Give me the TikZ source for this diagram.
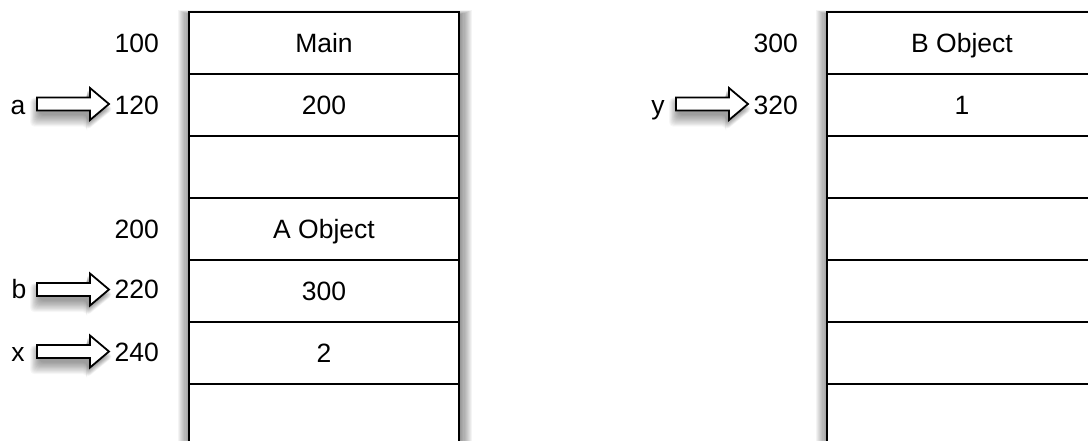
\documentclass[tikz,border=0pt]{standalone}
\usepackage{fontspec}
\setmainfont{Liberation Sans}
\tikzset{
  cell/.style={draw=black, line width=2pt, fill=white, rectangle, minimum width=270pt, minimum height=62pt, inner sep=0pt, text height=19pt, text depth=0pt},
  addr/.style={anchor=base east, inner sep=0pt},
  var/.style={anchor=base, inner sep=0pt},
  arrowbody/.style={draw=black, line width=1.8pt, fill=white, line join=miter},
}
\newcommand{\blockarr}[3]{% #1 = left x, #2 = centre y, #3 = name
  \foreach \i in {1,...,14}{
    \fill[black, opacity=0.032, rounded corners=4pt]
      (#1+3-\i*0.7, #2-2-\i*0.3) -- (#1+50, #2-2-\i*0.3) -- (#1+50, #2-10-\i*0.4)
      -- (#1+68+\i*0.6, #2+5) -- (#1+50, #2+18+\i*0.6) -- (#1+50, #2+10+\i*0.9)
      -- (#1+3-\i*0.7, #2+10+\i*0.9) -- cycle;
  }
  \draw[arrowbody] (#1, #2-6.5) -- (#1+53, #2-6.5) -- (#1+53, #2-16) -- (#1+72, #2)
     -- (#1+53, #2+16) -- (#1+53, #2+6.5) -- (#1, #2+6.5) -- cycle;
  \coordinate (#3) at (#1+72, #2);
}
\newcommand{\tabshadow}[2]{% #1 left x, #2 right x
  \foreach \i in {1,...,12}{
    \fill[black, opacity=0.045] (#1+1-\i*1.1, 15-\i*0.4) rectangle (#2-1+\i*1.1, 460);
  }
}
\begin{document}
\begin{tikzpicture}[x=1pt, y=-1pt, font=\fontsize{26.5}{30}\selectfont]
\useasboundingbox (0,0) rectangle (1088,440);
\clip (0,0) rectangle (1088,440);
\fill[white] (0,0) rectangle (1088,440);

% ---------- left table ----------
\tabshadow{190}{460}
\node[cell] (L1) at (324, 42.5) {Main};
\node[cell] (L2) at (324,104.5) {200};
\node[cell] (L3) at (324,166.5) {};
\node[cell] (L4) at (324,228.5) {A Object};
\node[cell] (L5) at (324,290.5) {300};
\node[cell] (L6) at (324,352.5) {2};
\node[cell] (L7) at (324,414.5) {};

% ---------- right table ----------
\tabshadow{828}{1098}
\node[cell] (R1) at (962, 42.5) {B Object};
\node[cell] (R2) at (962,104.5) {1};
\node[cell] (R3) at (962,166.5) {};
\node[cell] (R4) at (962,228.5) {};
\node[cell] (R5) at (962,290.5) {};
\node[cell] (R6) at (962,352.5) {};
\node[cell] (R7) at (962,414.5) {};

% ---------- addresses ----------
\node[addr] (a100) at (159, 52.5) {100};
\node[addr] (a120) at (159,114) {120};
\node[addr] (a200) at (159,238) {200};
\node[addr] (a220) at (159,298.5) {220};
\node[addr] (a240) at (159,361) {240};
\node[addr] (a300) at (798, 52.5) {300};
\node[addr] (a320) at (798,114) {320};

% ---------- variables and block arrows ----------
\node[var] (va) at (18,114) {a};
\blockarr{37}{104}{pa}
\node[var] (vb) at (19,298.5) {b};
\blockarr{37}{289.5}{pb}
\node[var] (vx) at (18,361) {x};
\blockarr{37}{351.5}{px}
\node[var] (vy) at (658,114) {y};
\blockarr{676}{104}{py}
\end{tikzpicture}
\end{document}
